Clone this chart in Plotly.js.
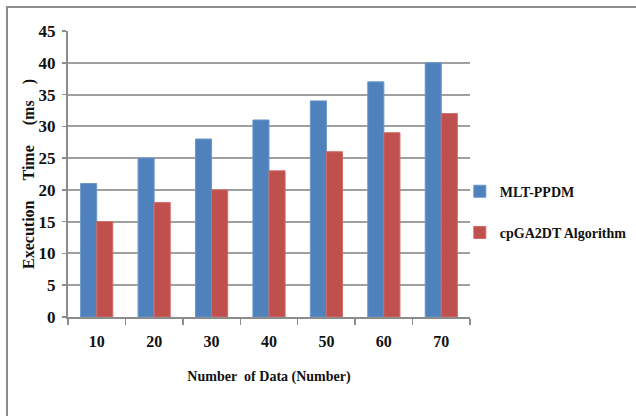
<!DOCTYPE html>
<html>
<head>
<meta charset="utf-8">
<script src="https://cdn.plot.ly/plotly-3.0.1.min.js"></script>
<style>
  html, body { margin: 0; padding: 0; background: #fff; }
  #wrap { position: relative; width: 636px; height: 416px; }
  #chart { position: absolute; left: 0; top: 0; width: 636px; height: 416px; }
  #frame { position: absolute; left: 6px; top: 6px; right: 0; bottom: 0;
           border-left: 2px solid #8c8c8c; border-top: 2px solid #8c8c8c;
           pointer-events: none; }
</style>
</head>
<body>
<div id="wrap">
  <div id="chart"></div>
  <div id="frame"></div>
</div>
<script>
// Execution time for each data size
const categories = ["10", "20", "30", "40", "50", "60", "70"];
const mltPpdm = [21, 25, 28, 31, 34, 37, 40];
const cpga2dt = [15, 18, 20, 23, 26, 29, 32];
const seriesNames = ["MLT-PPDM", "cpGA2DT Algorithm"];
const yTicks = [0, 5, 10, 15, 20, 25, 30, 35, 40, 45];

const serif = "'Liberation Serif', 'Times New Roman', serif";
const nb = "\u00a0";
const gap = (n) => nb.repeat(n);

const traces = [
  {
    type: "bar", x: categories, y: mltPpdm, name: seriesNames[0],
    legendgroup: "a",
    marker: { color: "#4F81BD", line: { color: "#6b97cc", width: 1 } }
  },
  {
    type: "bar", x: categories, y: cpga2dt, name: seriesNames[1],
    legendgroup: "b",
    marker: { color: "#C0504D", line: { color: "#d06a67", width: 1 } }
  }
];

const layout = {
  width: 636, height: 416,
  margin: { l: 68, r: 166, t: 31, b: 99, autoexpand: false },
  paper_bgcolor: "#ffffff",
  plot_bgcolor: "#ffffff",
  barmode: "group",
  bargap: 0.44,
  bargroupgap: 0,
  font: { family: serif, color: "#111111" },
  xaxis: {
    type: "category",
    showline: true, linecolor: "#8c8c8c", linewidth: 2,
    ticks: "outside", tickson: "boundaries", ticklen: 6, tickwidth: 1.5, tickcolor: "#8c8c8c",
    showgrid: false,
    tickfont: { family: serif, size: 16, weight: "bold", color: "#111111" },
    ticklabelstandoff: 9,
    title: {
      text: "<b>Number" + gap(2) + "of Data" + gap(1) + "(Number)</b>",
      font: { family: serif, size: 14, color: "#111111" },
      standoff: 22
    },
    automargin: false
  },
  yaxis: {
    range: [0, 45],
    tickvals: yTicks,
    showline: true, linecolor: "#8c8c8c", linewidth: 2,
    ticks: "outside", ticklen: 4, tickwidth: 1.5, tickcolor: "#8c8c8c",
    showgrid: true, gridcolor: "#a0a0a0", gridwidth: 2,
    zeroline: false,
    tickfont: { family: serif, size: 17, weight: "bold", color: "#111111" },
    ticklabelstandoff: 3,
    title: {
      text: "<b>Execution" + gap(5) + "Time" + gap(5) + "(ms" + gap(4) + ")</b>",
      font: { family: serif, size: 16, color: "#111111" },
      standoff: 0
    },
    automargin: false
  },
  showlegend: true,
  legend: {
    xref: "container", yref: "container",
    x: 0.723, y: 0.49, xanchor: "left", yanchor: "middle",
    traceorder: "grouped",
    tracegroupgap: 20,
    itemwidth: 30,
    font: { family: serif, size: 14, weight: "bold", color: "#111111" },
    bgcolor: "rgba(0,0,0,0)"
  }
};

Plotly.newPlot("chart", traces, layout, { displayModeBar: false, staticPlot: true });
</script>
</body>
</html>
